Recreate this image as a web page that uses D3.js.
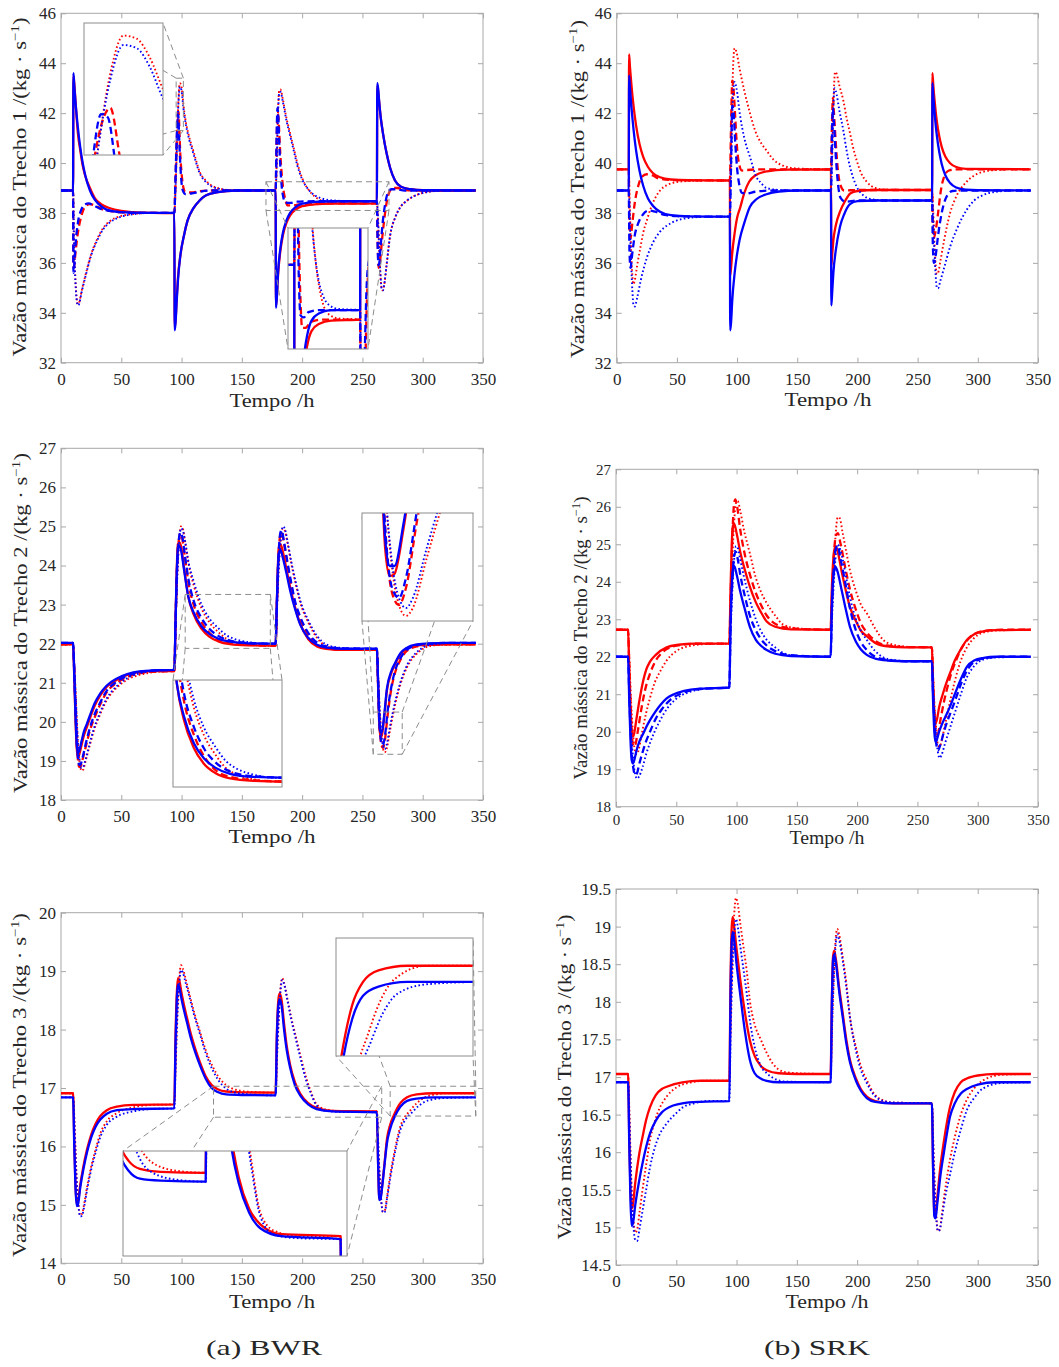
<!DOCTYPE html>
<html>
<head>
<meta charset="utf-8">
<script src="https://cdn.jsdelivr.net/npm/d3@7/dist/d3.min.js"></script>
<style>
  body { margin: 0; background: #fff; }
  svg text { font-family: "Liberation Serif", "DejaVu Serif", serif; fill: #262626; }
</style>
</head>
<body>
<svg id="fig" width="1059" height="1367"></svg>
<script>
// ---- data: [tempo (h), vazão (kg/s)] ----
const xTicks = [0, 50, 100, 150, 200, 250, 300, 350];

// BWR, Trecho 1
const bwr1RedSolid = [[0,38.9],[10,38.9],[10.3,43.5],[11,43.2],[12,42.5],[13,41.8],[14,41.2],[16,40.5],[18,39.9],[20,39.5],[24,39.0],[28,38.6],[34,38.33],[40,38.2],[50,38.08],[60,38.03],[75,38.0],[94,37.99],
  [94.3,33.4],[95,33.7],[96,34.6],[97,35.4],[99,36.3],[102,37.1],[105,37.7],[110,38.2],[115,38.5],[120,38.7],[130,38.83],[145,38.9],[178,38.9],
  [178.3,34.3],[179,34.6],[180,35.5],[182,36.5],[184,37.1],[187,37.6],[190,37.9],[195,38.15],[200,38.27],[210,38.34],[225,38.37],[262,38.38],
  [262.3,43.1],[263,42.9],[264,42.4],[265,41.9],[267,41.2],[270,40.4],[273,39.8],[277,39.3],[282,39.05],[290,38.95],[300,38.91],[344,38.9]];
const bwr1RedDash = [[0,38.9],[10,38.9],[10.3,35.8],[11,35.9],[12,36.4],[14,37.2],[17,37.9],[20,38.25],[24,38.35],[28,38.3],[34,38.15],[45,38.05],[60,38.0],[94,38.0],
  [95,39.4],[96,40.9],[97,41.9],[97.5,42.05],[98.2,41.3],[99,40.3],[100,39.6],[101,39.15],[103,38.85],[108,38.82],[115,38.87],[125,38.9],[178,38.9],
  [178.8,40.8],[179.6,42.0],[180.4,41.8],[181.3,40.9],[182.5,39.9],[184,39.1],[186,38.55],[188,38.3],[192,38.3],[200,38.36],[215,38.38],[262,38.38],
  [262.6,36.9],[263.5,35.8],[264.5,36.0],[266,36.8],[268,37.7],[270,38.4],[272,38.8],[275,39.0],[279,39.0],[286,38.92],[300,38.9],[344,38.9]];
const bwr1RedDot = [[0,38.9],[10,38.9],[10.5,37.6],[11,36.6],[12,35.3],[13,34.6],[14,34.35],[15,34.4],[17,34.85],[20,35.45],[25,36.35],[30,36.95],[35,37.4],[40,37.65],[50,37.88],[60,37.96],[75,38.0],[94,38.0],
  [95,39.0],[96,40.5],[96.5,41.3],[97.5,42.6],[98.5,43.2],[99.5,43.15],[100.5,42.85],[101.5,42.35],[103,41.8],[106,41.1],[110,40.45],[115,39.65],[120,39.3],[130,39.0],[145,38.9],[178,38.9],
  [179,40.3],[180,42.1],[181,42.9],[182,42.95],[184,42.55],[187,41.8],[190,41.2],[193,40.6],[196,40.0],[200,39.4],[205,38.95],[210,38.68],[215,38.52],[222,38.43],[235,38.39],[262,38.38],
  [263,37.6],[264,36.4],[265,35.45],[266,34.95],[267,34.9],[268,35.1],[270,35.9],[273,37.1],[277,37.8],[281,38.2],[287,38.5],[295,38.72],[305,38.85],[320,38.9],[344,38.9]];
const bwr1BlueSolid = [[0,38.9],[10,38.9],[10.3,43.6],[11,43.1],[12,42.46],[13,41.9],[14,41.42],[16,40.62],[18,40.0],[20,39.53],[24,38.9],[28,38.53],[34,38.24],[40,38.1],[50,38.03],[60,38.01],[94,38.0],
  [94.3,33.3],[95,33.6],[96,34.5],[97,35.3],[99,36.3],[102,37.1],[105,37.7],[110,38.2],[115,38.5],[120,38.7],[130,38.83],[145,38.9],[178,38.9],
  [178.3,34.2],[179,34.6],[180,35.6],[182,36.6],[184,37.2],[187,37.7],[190,38.0],[195,38.25],[200,38.37],[210,38.44],[225,38.47],[262,38.47],
  [262.3,43.2],[263,43.0],[264,42.4],[265,41.9],[267,41.2],[270,40.4],[273,39.8],[277,39.3],[282,39.05],[290,38.95],[300,38.91],[344,38.9]];
const bwr1BlueDash = [[0,38.9],[10,38.9],[10.3,35.6],[11,35.9],[12,36.7],[14,37.6],[17,38.15],[20,38.35],[23,38.38],[27,38.3],[32,38.18],[40,38.08],[50,38.03],[65,38.0],[94,38.0],
  [95,39.5],[96,41.0],[96.8,41.95],[97.3,41.9],[98,41.0],[99,39.9],[100,39.2],[101,38.9],[103,38.76],[108,38.78],[115,38.85],[125,38.9],[178,38.9],
  [178.8,41.0],[179.5,42.2],[180.2,41.9],[181,40.8],[182,39.8],[183,39.1],[184.5,38.6],[186,38.42],[190,38.4],[196,38.45],[210,38.47],[262,38.47],
  [262.6,36.8],[263.3,35.9],[264,36.0],[265,36.6],[267,37.7],[269,38.4],[271,38.8],[274,38.95],[278,38.95],[285,38.9],[344,38.9]];
const bwr1BlueDot = [[0,38.9],[10,38.9],[10.5,37.5],[11,36.5],[12,35.2],[13,34.5],[14,34.3],[15,34.35],[17,34.8],[20,35.4],[25,36.3],[30,36.9],[35,37.35],[40,37.6],[50,37.85],[60,37.95],[75,38.0],[94,38.0],
  [95,39.0],[96,40.5],[96.5,41.3],[97.5,42.5],[98.5,43.05],[99.5,43.0],[100.5,42.7],[101.5,42.2],[103,41.7],[106,41.0],[110,40.35],[115,39.6],[120,39.25],[130,38.98],[145,38.9],[178,38.9],
  [179,40.2],[180,42.0],[181,42.8],[182,42.85],[184,42.45],[187,41.7],[190,41.1],[193,40.5],[196,39.9],[200,39.35],[205,38.95],[210,38.72],[215,38.6],[222,38.52],[235,38.48],[262,38.47],
  [263,37.7],[264,36.5],[265,35.5],[266,34.95],[267,34.9],[268,35.1],[270,35.9],[273,37.1],[277,37.8],[281,38.2],[287,38.5],[295,38.72],[305,38.85],[320,38.9],[344,38.9]];

// SRK, Trecho 1
const srk1RedSolid = [[0,39.75],[10,39.75],[10.3,44.35],[11,43.86],[12,43.26],[13,42.73],[14,42.28],[16,41.54],[19,40.75],[22,40.25],[26,39.84],[30,39.6],[36,39.43],[45,39.34],[60,39.31],[94,39.3],
  [94.3,35.5],[95,35.8],[96,36.4],[98,37.2],[100,37.8],[102.5,38.2],[106,38.8],[110,39.25],[115,39.5],[125,39.67],[140,39.74],[178,39.75],
  [178.3,35.9],[179,36.3],[180,36.9],[182,37.5],[185.5,38.05],[190,38.5],[194,38.78],[200,38.88],[215,38.92],[262,38.92],
  [262.3,43.6],[263,43.12],[264,42.55],[265,42.06],[266,41.66],[268,41.06],[270,40.65],[273,40.26],[277,39.99],[282,39.84],[290,39.77],[344,39.75]];
const srk1RedDash = [[0,39.75],[10,39.75],[10.5,37.5],[11.5,37.0],[13,37.6],[15,38.4],[18,39.1],[21,39.45],[25,39.55],[30,39.5],[35,39.38],[45,39.32],[94,39.3],
  [95,41.5],[96,43.3],[97,43.0],[98.5,41.8],[100,40.6],[102,39.9],[104,39.7],[108,39.72],[120,39.75],[178,39.75],
  [178.8,41.5],[179.6,42.6],[180.5,42.0],[182,40.8],[184,39.6],[186,39.1],[189,38.9],[200,38.92],[262,38.92],
  [262.6,37.6],[263.5,37.0],[265,37.3],[267,38.0],[269,38.8],[272,39.45],[276,39.7],[282,39.75],[344,39.75]];
const srk1RedDot = [[0,39.75],[10,39.75],[11,38.0],[12,36.5],[13,35.5],[14,35.15],[15,35.3],[17,35.9],[20,36.7],[22,37.2],[25,37.7],[28,38.15],[32,38.6],[36,38.9],[42,39.12],[50,39.24],[65,39.29],[94,39.3],
  [95,40.5],[96,42.6],[97,44.2],[98,44.6],[99.5,44.45],[102,43.8],[106,42.9],[110.7,42.0],[115,41.3],[120,40.8],[124.5,40.5],[130,40.15],[138,39.9],[150,39.78],[178,39.75],
  [179,40.5],[180,42.3],[181.4,43.65],[182.5,43.6],[185,43.1],[188.3,42.5],[191,41.8],[193.8,41.2],[196,40.7],[199.4,40.1],[203,39.6],[207.7,39.25],[215,39.0],[225,38.93],[262,38.92],
  [263,38.0],[264,36.8],[265,35.9],[266,35.55],[267,35.6],[269,36.1],[272,36.9],[277,38.0],[282,38.65],[290.7,39.25],[297,39.5],[304.5,39.65],[315,39.72],[330,39.75],[344,39.75]];
const srk1BlueSolid = [[0,38.9],[10,38.9],[10.3,43.5],[11,43.01],[12,42.38],[13,41.83],[14,41.34],[16,40.54],[19,39.68],[22,39.09],[26,38.58],[30,38.29],[36,38.05],[45,37.91],[60,37.86],[94,37.85],
  [94.3,33.3],[95,33.6],[96,34.5],[98,35.6],[99.7,36.25],[102,36.9],[106,37.6],[110.7,38.25],[116,38.55],[124.5,38.75],[135,38.86],[150,38.9],[178,38.9],
  [178.3,34.3],[179,34.8],[180,35.6],[182,36.5],[185.5,37.45],[189,37.95],[193.8,38.35],[200,38.47],[215,38.5],[262,38.5],
  [262.3,43.2],[263,42.68],[264,42.06],[265,41.52],[266,41.09],[268,40.43],[270,39.96],[273,39.51],[277,39.2],[282,39.02],[290,38.93],[300,38.91],[344,38.9]];
const srk1BlueDash = [[0,38.9],[10,38.9],[10.6,36.5],[11.5,35.8],[13,36.4],[15,37.1],[18,37.6],[22,37.95],[27,38.1],[32,38.05],[40,37.92],[50,37.87],[94,37.85],
  [95,40.0],[96,42.3],[97,42.1],[98.5,40.8],[100,39.8],[102,39.1],[104,38.8],[108,38.78],[115,38.85],[130,38.9],[178,38.9],
  [178.8,41.0],[179.6,42.2],[180.5,41.6],[182,40.3],[184,39.1],[186,38.6],[190,38.45],[200,38.5],[262,38.5],
  [262.6,36.8],[263.5,36.0],[265,36.3],[267,37.1],[270,38.0],[274,38.65],[279,38.88],[288,38.9],[344,38.9]];
const srk1BlueDot = [[0,38.9],[10,38.9],[11,37.5],[12,36.0],[13,34.9],[14,34.3],[15,34.25],[17,34.6],[20,35.3],[25,36.2],[30,36.8],[36,37.25],[42,37.5],[50,37.7],[60,37.8],[75,37.85],[94,37.85],
  [95,39.5],[96,41.8],[97,43.0],[98,43.25],[99.5,43.0],[102.5,41.9],[106,41.0],[110.7,40.25],[116,39.45],[120,39.2],[124.5,39.0],[135,38.92],[150,38.9],[178,38.9],
  [179,40.2],[180,42.2],[181,43.0],[182,42.9],[185,42.1],[188.3,41.3],[191,40.5],[193.8,39.85],[196.5,39.4],[199.4,39.05],[205,38.7],[212,38.55],[225,38.5],[262,38.5],
  [263,37.6],[264,36.4],[265,35.5],[266,35.0],[267,34.98],[269,35.3],[272,35.8],[277,36.65],[283,37.4],[290.7,38.12],[297,38.5],[304.5,38.72],[315,38.85],[330,38.9],[344,38.9]];

// BWR, Trecho 2
const bwr2RedSolid = [[0,21.98],[10,21.98],[11,21.15],[12,20.1],[13,19.35],[14,19.1],[15,19.15],[17,19.4],[19,19.65],[21.6,19.88],[25,20.18],[28,20.42],[32.6,20.68],[38,20.9],[46.4,21.08],[55,21.2],[65,21.27],[80,21.3],[94,21.3],
  [95,22.6],[96,23.9],[97,24.55],[98,24.6],[99.5,24.5],[102,23.95],[105.6,23.2],[110,22.75],[116.6,22.38],[123,22.18],[130.4,22.06],[140,21.99],[155,21.96],[178,21.95],
  [179,23.0],[180,24.1],[181,24.5],[182,24.55],[184,24.35],[187,23.9],[190,23.45],[194,22.95],[198.5,22.5],[205,22.12],[212.3,21.93],[220,21.87],[235,21.84],[262,21.84],
  [263,20.9],[264,19.9],[265,19.62],[266,19.64],[268,20.1],[270.3,20.8],[274,21.25],[277,21.47],[281.4,21.72],[287,21.88],[295,21.95],[305,21.97],[320,21.98],[344,21.98]];
const bwr2RedDash = [[0,21.98],[10,21.98],[11,21.3],[12,20.4],[13,19.55],[14,19.05],[15,18.85],[16,18.85],[18,19.05],[21,19.42],[24,19.78],[28,20.12],[32.6,20.45],[38,20.76],[46.4,21.0],[55,21.15],[65,21.24],[80,21.29],[94,21.3],
  [95,22.5],[96,23.7],[97.5,24.6],[99,24.8],[100.5,24.7],[103,24.15],[106,23.5],[110,23.0],[116.6,22.55],[123,22.28],[130.4,22.1],[140,22.01],[155,21.97],[178,21.95],
  [179,23.0],[180.5,24.3],[182,24.8],[183,24.85],[185,24.55],[188,24.0],[191,23.5],[194,23.05],[198.5,22.62],[205,22.22],[212.3,21.98],[220,21.89],[235,21.85],[262,21.84],
  [263,21.0],[264,20.1],[265.5,19.45],[267,19.33],[268.5,19.5],[271,20.2],[274,20.85],[277,21.25],[281.4,21.58],[287,21.82],[295,21.93],[305,21.97],[320,21.98],[344,21.98]];
const bwr2RedDot = [[0,21.98],[10,21.98],[11,21.5],[12,20.8],[13,20.1],[14,19.45],[15.5,18.95],[17,18.75],[18.5,18.78],[20,18.95],[23,19.3],[27,19.75],[32.6,20.2],[38,20.56],[46.4,20.88],[55,21.08],[65,21.2],[80,21.28],[94,21.3],
  [95,22.4],[96.5,23.8],[98,24.65],[99.5,25.0],[101,24.95],[103,24.6],[106,24.0],[110,23.5],[116.6,22.9],[123,22.55],[130.4,22.3],[137,22.13],[144,22.04],[155,21.98],[170,21.95],[178,21.95],
  [179,22.8],[180.5,23.9],[182,24.6],[184,24.95],[185.5,24.9],[188,24.55],[191,24.05],[194.5,23.55],[198.5,23.05],[205,22.55],[212.3,22.15],[220,21.94],[230,21.87],[245,21.84],[262,21.84],
  [263,21.2],[264,20.5],[265.5,19.7],[267,19.33],[268.5,19.22],[270,19.3],[273,19.8],[277,20.42],[281.4,20.95],[287,21.4],[295,21.74],[302,21.9],[310,21.96],[325,21.98],[344,21.98]];
const bwr2BlueSolid = [[0,22.02],[10,22.02],[11,21.2],[12,20.2],[13,19.45],[14,19.2],[15,19.25],[17,19.5],[19,19.75],[21.6,19.96],[25,20.25],[28,20.48],[32.6,20.73],[38,20.93],[46.4,21.11],[55,21.22],[65,21.29],[80,21.32],[94,21.33],
  [95,22.6],[96,23.8],[97,24.45],[98,24.5],[99.5,24.4],[102,23.9],[105.6,23.2],[110,22.8],[116.6,22.44],[123,22.25],[130.4,22.13],[140,22.05],[155,22.01],[178,22.0],
  [179,23.0],[180,24.0],[181,24.35],[182,24.4],[184,24.2],[187,23.8],[190,23.37],[194,22.9],[198.5,22.48],[205,22.15],[212.3,21.97],[220,21.9],[235,21.87],[262,21.87],
  [263,21.0],[264,20.0],[265,19.72],[266,19.72],[268,20.15],[270.3,20.85],[274,21.3],[277,21.5],[281.4,21.75],[287,21.9],[295,21.98],[305,22.01],[320,22.02],[344,22.02]];
const bwr2BlueDash = [[0,22.02],[10,22.02],[11,21.3],[12,20.4],[13,19.6],[14,19.1],[15,18.9],[16,18.9],[18,19.1],[21,19.5],[24,19.85],[28,20.2],[32.6,20.5],[38,20.8],[46.4,21.03],[55,21.18],[65,21.27],[80,21.32],[94,21.33],
  [95,22.5],[96,23.7],[97.5,24.6],[99,24.85],[100.5,24.75],[103,24.2],[106,23.6],[110,23.1],[116.6,22.65],[123,22.38],[130.4,22.2],[140,22.08],[155,22.02],[178,22.0],
  [179,23.0],[180.5,24.3],[182,24.85],[183,24.9],[185,24.6],[188,24.05],[191,23.55],[194,23.1],[198.5,22.68],[205,22.28],[212.3,22.03],[220,21.93],[235,21.88],[262,21.87],
  [263,21.0],[264,20.1],[265.5,19.5],[267,19.4],[268.5,19.6],[271,20.3],[274,20.9],[277,21.3],[281.4,21.62],[287,21.85],[295,21.96],[305,22.0],[320,22.02],[344,22.02]];
const bwr2BlueDot = [[0,22.02],[10,22.02],[11,21.5],[12,20.8],[13,20.1],[14,19.5],[15.5,19.0],[17,18.82],[18.5,18.85],[20,19.0],[23,19.35],[27,19.8],[32.6,20.25],[38,20.6],[46.4,20.92],[55,21.12],[65,21.24],[80,21.31],[94,21.33],
  [95,22.4],[96.5,23.8],[98,24.6],[99.5,24.95],[101,24.9],[103,24.6],[106,24.05],[110,23.6],[116.6,23.0],[123,22.65],[130.4,22.4],[137,22.22],[144,22.12],[155,22.04],[170,22.0],[178,22.0],
  [179,22.8],[180.5,23.9],[182,24.6],[184,25.0],[185.5,24.95],[188,24.6],[191,24.1],[194.5,23.6],[198.5,23.1],[205,22.6],[212.3,22.2],[220,21.98],[230,21.9],[245,21.87],[262,21.87],
  [263,21.2],[264,20.5],[265.5,19.75],[267,19.4],[268.5,19.3],[270,19.4],[273,19.9],[277,20.5],[281.4,21.0],[287,21.45],[295,21.78],[302,21.93],[310,21.99],[325,22.02],[344,22.02]];

// SRK, Trecho 2
const srk2RedSolid = [[0,22.72],[10,22.72],[11,21.6],[12,20.6],[13,20.0],[14,19.87],[15,19.95],[17,20.35],[19.5,20.85],[22.7,21.38],[25,21.65],[28.2,21.87],[33,22.05],[42,22.25],[52,22.32],[65,22.35],[94,22.35],
  [95,23.8],[96,25.0],[97,25.5],[98,25.55],[100,25.3],[103,24.8],[107,24.3],[111,23.87],[116,23.45],[120,23.2],[125,22.94],[132,22.8],[145,22.73],[178,22.72],
  [179,23.8],[180.5,24.7],[182,24.95],[183.5,24.85],[187,24.3],[190,23.85],[194,23.33],[199,22.95],[203,22.7],[208,22.55],[215,22.37],[225,22.28],[240,22.25],[262,22.25],
  [263,21.2],[264,20.45],[265,20.22],[266,20.3],[268,20.65],[271,21.0],[274,21.3],[277,21.56],[281,21.9],[286,22.2],[291,22.45],[297,22.6],[305,22.68],[315,22.71],[344,22.72]];
const srk2RedDash = [[0,22.72],[10,22.72],[11,21.8],[12,20.8],[13,20.0],[14.5,19.6],[16,19.65],[18,20.0],[21,20.6],[24,21.1],[28.2,21.55],[33,21.9],[38,22.1],[45,22.25],[55,22.32],[70,22.35],[94,22.35],
  [95,23.5],[96.5,25.2],[98,26.1],[99,26.2],[100.5,26.0],[103,25.4],[107,24.7],[111,24.2],[116,23.7],[120,23.4],[125,23.1],[132,22.88],[145,22.76],[178,22.72],
  [179,23.5],[180.5,24.6],[182.5,25.25],[184,25.3],[186,25.05],[190,24.4],[194,23.8],[199,23.25],[203,22.9],[208,22.65],[215,22.43],[225,22.3],[240,22.26],[262,22.25],
  [263,21.3],[264,20.5],[265.5,20.0],[267,19.95],[269,20.3],[272,20.8],[275,21.2],[278,21.55],[282,21.9],[287,22.25],[292,22.47],[298,22.62],[306,22.69],[320,22.72],[344,22.72]];
const srk2RedDot = [[0,22.72],[10,22.72],[11,22.0],[12,21.2],[13,20.5],[14.5,19.8],[16,19.45],[17.5,19.4],[19,19.55],[22,20.05],[25,20.5],[28.2,20.9],[32,21.3],[36.5,21.6],[42,21.9],[50,22.15],[60,22.28],[75,22.34],[94,22.35],
  [95,23.2],[96.5,24.6],[98,25.6],[99.5,26.1],[101,26.15],[103,25.9],[106,25.4],[111,24.76],[116,24.1],[120,23.75],[125,23.43],[132,23.1],[139,22.85],[150,22.76],[165,22.73],[178,22.72],
  [179,23.3],[180.5,24.3],[182,25.2],[184,25.72],[185.5,25.7],[188,25.3],[191,24.8],[194,24.31],[199,23.75],[203,23.4],[208,23.16],[215,22.75],[221.6,22.45],[230,22.32],[245,22.26],[262,22.25],
  [263,21.5],[264,20.8],[265.5,20.1],[267,19.65],[268.5,19.6],[270,19.75],[273,20.2],[277,20.8],[281,21.35],[286,21.9],[291,22.25],[297,22.5],[304,22.64],[315,22.7],[344,22.72]];
const srk2BlueSolid = [[0,22.0],[10,22.0],[11,20.8],[12,19.8],[13,19.25],[14,19.15],[15,19.22],[17,19.5],[19.5,19.75],[22.7,19.96],[25,20.12],[28.2,20.31],[33,20.55],[37,20.72],[42,20.89],[48,21.0],[55.6,21.08],[70,21.15],[94,21.18],
  [95,22.9],[96,23.9],[97,24.35],[98,24.42],[100,24.2],[103,23.75],[107,23.25],[111,22.8],[116,22.45],[120,22.3],[125,22.18],[132,22.08],[145,22.02],[178,22.0],
  [179,23.3],[180.5,24.2],[182,24.4],[183.5,24.3],[187,23.8],[190,23.35],[194,22.8],[199,22.4],[203,22.2],[208,22.05],[215,21.95],[225,21.9],[240,21.88],[262,21.88],
  [263,20.8],[264,20.0],[265,19.73],[266,19.78],[268,20.0],[271,20.25],[274,20.45],[277,20.67],[281,21.0],[286,21.4],[291,21.73],[297,21.9],[305,21.97],[315,22.0],[344,22.0]];
const srk2BlueDash = [[0,22.0],[10,22.0],[11,21.0],[12,20.1],[13,19.45],[14.5,19.0],[16,18.85],[17.5,18.9],[19,19.1],[22,19.45],[25,19.75],[28.2,20.0],[33,20.35],[38,20.6],[45,20.85],[55,21.03],[70,21.14],[94,21.18],
  [95,22.8],[96.5,24.0],[98,24.7],[99.5,24.8],[101,24.6],[103,24.2],[107,23.6],[111,23.1],[116,22.7],[120,22.48],[125,22.3],[132,22.15],[145,22.04],[178,22.0],
  [179,23.2],[180.5,24.3],[182.5,24.9],[184,24.95],[186,24.65],[190,24.0],[194,23.3],[199,22.7],[203,22.4],[208,22.18],[215,22.0],[225,21.92],[240,21.88],[262,21.88],
  [263,21.0],[264,20.3],[265.5,19.7],[267,19.5],[269,19.65],[272,20.0],[275,20.3],[278,20.55],[282,20.9],[287,21.35],[292,21.68],[298,21.88],[306,21.96],[320,22.0],[344,22.0]];
const srk2BlueDot = [[0,22.0],[10,22.0],[11,21.3],[12,20.5],[13,19.8],[14.5,19.2],[16,18.85],[17.5,18.75],[19,18.8],[22,19.05],[25,19.4],[28.2,19.7],[32,20.0],[36.5,20.3],[42,20.6],[50,20.88],[60,21.05],[75,21.15],[94,21.18],
  [95,22.5],[96.5,23.8],[98,24.6],[99.5,24.95],[101,24.9],[103,24.6],[106,24.15],[111,23.51],[116,23.0],[120,22.7],[125,22.45],[132,22.25],[140,22.08],[150,22.02],[178,22.0],
  [179,22.9],[180.5,23.9],[182,24.6],[183.5,25.0],[185,24.95],[188,24.6],[191,24.1],[194,23.6],[199,23.0],[203,22.7],[208,22.45],[215,22.15],[222,21.98],[230,21.91],[245,21.88],[262,21.88],
  [263,21.2],[264,20.6],[265.5,19.9],[267,19.45],[268.5,19.3],[270,19.38],[273,19.7],[277,20.1],[281,20.5],[286,21.0],[291,21.45],[297,21.75],[304,21.92],[315,21.98],[344,22.0]];

// BWR, Trecho 3
const bwr3RedSolid = [[0,16.91],[10,16.91],[11,16.1],[12,15.35],[13,15.02],[14,15.05],[16,15.35],[18.5,15.65],[21.6,15.95],[25,16.2],[28.5,16.38],[32.6,16.52],[38,16.62],[46.4,16.68],[60,16.71],[94,16.72],
  [95,17.9],[96,18.6],[97,18.88],[98,18.85],[100,18.62],[102,18.42],[104.5,18.2],[108,17.9],[111.5,17.66],[115.6,17.42],[120,17.2],[125,17.05],[130,16.98],[137,16.94],[150,16.925],[178,16.92],
  [179,17.9],[180.5,18.55],[181.5,18.62],[183,18.5],[185,18.1],[187.2,17.72],[190,17.4],[194,17.1],[198.5,16.9],[205,16.74],[212,16.66],[225,16.61],[262,16.6],
  [263,15.7],[264,15.1],[265,15.12],[266.5,15.35],[268.5,15.75],[270.3,16.12],[273,16.37],[276,16.53],[281.4,16.74],[287,16.84],[295,16.89],[310,16.91],[344,16.91]];
const bwr3RedDot = [[0,16.91],[10,16.91],[11,16.5],[12,15.95],[13,15.45],[14.5,15.0],[16,14.82],[17.5,14.85],[19.5,15.05],[22,15.35],[25,15.65],[28.5,15.93],[32.6,16.22],[38,16.43],[46.4,16.57],[60,16.67],[75,16.71],[94,16.72],
  [95,17.4],[96.5,18.3],[98,18.85],[99.5,19.1],[101,19.05],[103,18.9],[106,18.65],[110,18.33],[115.6,17.94],[120,17.65],[126,17.36],[131,17.18],[137,17.05],[145,16.97],[160,16.93],[178,16.92],
  [179,17.5],[180.5,18.2],[182,18.7],[183.5,18.88],[185,18.8],[188,18.5],[191,18.2],[194.5,17.9],[198.5,17.56],[203,17.2],[207,16.95],[212,16.72],[220,16.63],[235,16.6],[262,16.6],
  [263,16.1],[264,15.6],[265.5,15.1],[267,14.88],[268.5,14.9],[270.5,15.15],[273,15.5],[277,15.95],[281.4,16.34],[285,16.5],[289,16.6],[295,16.74],[303,16.85],[320,16.91],[344,16.91]];
const bwr3BlueSolid = [[0,16.84],[10,16.84],[11,16.0],[12,15.3],[13,14.98],[14,15.0],[16,15.3],[18.5,15.6],[21.6,15.9],[25,16.15],[28.5,16.33],[32.6,16.46],[38,16.56],[46.4,16.62],[60,16.64],[94,16.65],
  [95,17.8],[96,18.5],[97,18.77],[98,18.73],[100,18.52],[102,18.33],[104.5,18.12],[108,17.83],[111.5,17.6],[115.6,17.37],[120,17.16],[125,17.0],[130,16.93],[137,16.89],[150,16.88],[178,16.875],
  [179,17.85],[180.5,18.45],[181.5,18.52],[183,18.4],[185,18.0],[187.2,17.65],[190,17.35],[194,17.05],[198.5,16.87],[205,16.72],[212,16.64],[225,16.6],[262,16.585],
  [263,15.7],[264,15.08],[265,15.1],[266.5,15.33],[268.5,15.72],[270.3,16.05],[273,16.3],[277,16.52],[281.4,16.68],[287,16.78],[295,16.82],[310,16.84],[344,16.84]];
const bwr3BlueDot = [[0,16.84],[10,16.84],[11,16.45],[12,15.9],[13,15.4],[14.5,14.97],[16,14.8],[17.5,14.82],[19.5,15.0],[22,15.3],[25,15.6],[28.5,15.88],[32.6,16.16],[38,16.37],[46.4,16.51],[60,16.6],[75,16.64],[94,16.65],
  [95,17.3],[96.5,18.2],[98,18.75],[99.5,19.02],[101,18.98],[103,18.83],[106,18.6],[110,18.28],[115.6,17.9],[120,17.6],[126,17.3],[131,17.12],[137,16.99],[145,16.92],[160,16.885],[178,16.875],
  [179,17.45],[180.5,18.15],[182,18.65],[183.5,18.85],[185,18.78],[188,18.48],[191,18.17],[194.5,17.86],[198.5,17.52],[203,17.15],[207,16.92],[212,16.7],[220,16.61],[235,16.59],[262,16.585],
  [263,16.1],[264,15.6],[265.5,15.1],[267,14.87],[268.5,14.88],[270.5,15.12],[273,15.45],[277,15.9],[281.4,16.28],[286,16.47],[291,16.58],[297,16.7],[305,16.79],[320,16.83],[344,16.84]];

// SRK, Trecho 3
const srk3RedSolid = [[0,17.04],[10,17.04],[11,16.2],[12,15.5],[13,15.25],[14,15.3],[16,15.6],[19,15.95],[22.6,16.25],[25,16.43],[28.2,16.6],[33,16.76],[38,16.84],[42,16.87],[55,16.93],[70,16.95],[94,16.95],
  [95,18.3],[96,19.0],[96.8,19.13],[98,19.0],[100,18.7],[103,18.3],[107,17.85],[111,17.49],[115,17.28],[120,17.15],[125,17.09],[135,17.05],[150,17.04],[178,17.04],
  [179,18.0],[180,18.6],[181,18.68],[182.5,18.55],[185,18.2],[188,17.85],[191,17.5],[194,17.23],[199,16.98],[203,16.84],[208,16.74],[215,16.68],[230,16.65],[262,16.65],
  [263,15.8],[264,15.2],[265,15.18],[266.5,15.4],[269,15.8],[272,16.15],[274.5,16.4],[277,16.6],[281,16.8],[286,16.93],[291,16.98],[300,17.02],[315,17.04],[344,17.04]];
const srk3RedDot = [[0,17.04],[10,17.04],[11,16.6],[12,16.0],[13,15.5],[14.5,15.1],[16,14.93],[17.5,14.97],[19.5,15.2],[22,15.5],[25,15.83],[28.2,16.16],[32,16.4],[36,16.58],[42,16.74],[50,16.86],[60,16.92],[75,16.95],[94,16.95],
  [95,17.7],[96.5,18.6],[98,19.15],[99.5,19.38],[101,19.3],[103,19.05],[106,18.7],[108.5,18.4],[111,18.02],[115,17.7],[120,17.5],[125,17.32],[130,17.18],[139,17.07],[150,17.05],[178,17.04],
  [179,17.6],[180.5,18.3],[182,18.8],[183.5,18.97],[185,18.9],[188,18.6],[191,18.25],[194,17.8],[199,17.4],[203,17.15],[208,16.96],[214,16.78],[220,16.7],[230,16.66],[262,16.65],
  [263,16.2],[264,15.7],[265.5,15.2],[267,14.95],[268.5,14.97],[270.5,15.2],[273,15.5],[277,15.9],[281,16.2],[286,16.5],[291,16.7],[297,16.85],[305,16.96],[320,17.03],[344,17.04]];
const srk3BlueSolid = [[0,16.93],[10,16.93],[11,16.1],[12,15.35],[13,15.02],[14,15.05],[16,15.3],[19,15.6],[22.6,15.9],[25,16.07],[28.2,16.25],[33,16.42],[38,16.53],[42,16.58],[55,16.65],[70,16.67],[94,16.68],
  [95,18.1],[96,18.8],[96.8,18.93],[98,18.82],[100,18.5],[103,18.1],[107,17.6],[111,17.23],[115,17.05],[120,16.98],[125,16.95],[135,16.93],[178,16.93],
  [179,17.95],[180,18.55],[181,18.63],[182.5,18.5],[185,18.15],[188,17.8],[191,17.45],[194,17.2],[199,16.95],[203,16.82],[208,16.72],[215,16.67],[230,16.65],[262,16.65],
  [263,15.75],[264,15.15],[265,15.12],[266.5,15.32],[269,15.68],[272,16.0],[274.5,16.25],[277,16.47],[281,16.65],[286,16.78],[291,16.84],[300,16.9],[315,16.93],[344,16.93]];
const srk3BlueDot = [[0,16.93],[10,16.93],[11,16.5],[12,15.9],[13,15.4],[14.5,15.0],[16,14.83],[17.5,14.82],[19.5,14.98],[22,15.22],[25,15.5],[28.2,15.8],[32,16.05],[36,16.23],[42,16.38],[50,16.52],[55.7,16.6],[65,16.65],[75,16.68],[94,16.68],
  [95,17.5],[96.5,18.4],[98,18.9],[99.5,19.1],[101,19.0],[103,18.75],[106,18.4],[108.5,18.1],[111,17.76],[115,17.4],[120,17.15],[125,17.05],[130,16.99],[140,16.94],[178,16.93],
  [179,17.55],[180.5,18.25],[182,18.72],[183.5,18.9],[185,18.83],[188,18.55],[191,18.2],[194,17.8],[199,17.35],[203,17.1],[208,16.92],[214,16.76],[220,16.69],[230,16.66],[262,16.65],
  [263,16.15],[264,15.65],[265.5,15.15],[267,14.95],[268.5,14.97],[270.5,15.15],[273,15.4],[277,15.7],[281,16.0],[286,16.3],[291,16.56],[297,16.72],[304.6,16.85],[320,16.92],[344,16.93]];

// ---- layout ----
const RED = "#ff0000", BLUE = "#0000ff";
const dashes = { solid: null, dash: "7,4", dot: "1.6,2.4" };

const panels = [
  { id: "a1", xr: [61, 483], yr: [13.3, 362.7], dom: [32, 46], yTicks: d3.range(32, 47, 2), trecho: 1, fs: 17, pad: 10,
    ylab: [26, 187, 339], xlab: [272, 407, 85],
    series: [[bwr1RedDot, RED, "dot"], [bwr1RedDash, RED, "dash"], [bwr1RedSolid, RED, "solid"],
             [bwr1BlueDot, BLUE, "dot"], [bwr1BlueDash, BLUE, "dash"], [bwr1BlueSolid, BLUE, "solid"]],
    insets: [{ box: [84, 23, 163, 155], t: [95.5, 101.5], v: [41.3, 43.4] },
             { box: [288, 228, 368, 349], t: [170, 272], v: [38.1, 39.25] }] },
  { id: "b1", xr: [616.7, 1038], yr: [13.3, 362.7], dom: [32, 46], yTicks: d3.range(32, 47, 2), trecho: 1, fs: 17, pad: 10,
    ylab: [584, 189, 338], xlab: [828, 406, 87],
    series: [[srk1RedDot, RED, "dot"], [srk1RedDash, RED, "dash"], [srk1RedSolid, RED, "solid"],
             [srk1BlueDot, BLUE, "dot"], [srk1BlueDash, BLUE, "dash"], [srk1BlueSolid, BLUE, "solid"]],
    insets: [] },
  { id: "a2", xr: [61, 483], yr: [448.3, 800], dom: [18, 27], yTicks: d3.range(18, 28, 1), trecho: 2, fs: 17, pad: 10,
    ylab: [27, 623, 340], xlab: [272, 843, 87],
    series: [[bwr2RedDot, RED, "dot"], [bwr2RedDash, RED, "dash"], [bwr2RedSolid, RED, "solid"],
             [bwr2BlueDot, BLUE, "dot"], [bwr2BlueDash, BLUE, "dash"], [bwr2BlueSolid, BLUE, "solid"]],
    insets: [{ box: [173, 680, 282, 787], t: [103, 173.6], v: [21.88, 23.26] },
             { box: [362, 513, 473, 621], t: [259, 283], v: [19.17, 20.25] }] },
  { id: "b2", xr: [616, 1038], yr: [469.3, 806.7], dom: [18, 27], yTicks: d3.range(18, 28, 1), trecho: 2, fs: 15, pad: 8,
    ylab: [587, 638, 283], xlab: [827, 844, 75],
    series: [[srk2RedDot, RED, "dot"], [srk2RedDash, RED, "dash"], [srk2RedSolid, RED, "solid"],
             [srk2BlueDot, BLUE, "dot"], [srk2BlueDash, BLUE, "dash"], [srk2BlueSolid, BLUE, "solid"]],
    insets: [] },
  { id: "a3", xr: [61, 483], yr: [912.7, 1263.3], dom: [14, 20], yTicks: d3.range(14, 21, 1), trecho: 3, fs: 17, pad: 10,
    ylab: [26, 1085, 344], xlab: [272, 1308, 86],
    series: [[bwr3RedDot, RED, "dot"], [bwr3RedSolid, RED, "solid"],
             [bwr3BlueDot, BLUE, "dot"], [bwr3BlueSolid, BLUE, "solid"]],
    insets: [{ box: [123, 1151, 347, 1256], t: [126.5, 266], v: [16.5, 17.03] },
             { box: [336, 938, 473, 1056], t: [273, 344], v: [16.52, 17.03] }] },
  { id: "b3", xr: [616, 1038], yr: [889, 1265], dom: [14.5, 19.5], yTicks: d3.range(14.5, 19.51, 0.5), trecho: 3, fs: 17, pad: 10,
    ylab: [571, 1077, 325], xlab: [827, 1308, 83],
    series: [[srk3RedDot, RED, "dot"], [srk3RedSolid, RED, "solid"],
             [srk3BlueDot, BLUE, "dot"], [srk3BlueSolid, BLUE, "solid"]],
    insets: [] }
];

const svg = d3.select("#fig");
const defs = svg.append("defs");
const GRAY = "#a8a8a8";

function styleLine(sel, color, kind) {
  sel.attr("fill", "none")
    .attr("stroke", color)
    .attr("stroke-width", kind === "dot" ? 1.9 : 2.3)
    .attr("stroke-dasharray", dashes[kind])
    .attr("stroke-linejoin", "round");
}

panels.forEach(p => {
  const x = d3.scaleLinear().domain([0, 350]).range(p.xr);
  const y = d3.scaleLinear().domain(p.dom).range([p.yr[1], p.yr[0]]);
  const g = svg.append("g");
  const w = p.xr[1] - p.xr[0], h = p.yr[1] - p.yr[0];

  defs.append("clipPath").attr("id", "clip-" + p.id)
    .append("rect").attr("x", p.xr[0]).attr("y", p.yr[0]).attr("width", w).attr("height", h);

  // axes, MATLAB style: ticks inside, box on
  const fmt = d => String(+d.toFixed(1));
  const ax = [
    [d3.axisBottom(x).tickValues(xTicks), `translate(0,${p.yr[1]})`, true],
    [d3.axisTop(x).tickValues(xTicks), `translate(0,${p.yr[0]})`, false],
    [d3.axisLeft(y).tickValues(p.yTicks).tickFormat(fmt), `translate(${p.xr[0]},0)`, true],
    [d3.axisRight(y).tickValues(p.yTicks), `translate(${p.xr[1]},0)`, false]
  ];
  ax.forEach(([axis, tr, labels], i) => {
    const a = g.append("g").attr("transform", tr)
      .call(axis.tickSizeInner(-5).tickSizeOuter(0).tickPadding(i === 2 ? 5 : p.pad));
    a.select(".domain").remove();
    a.selectAll("line").attr("stroke", GRAY);
    a.attr("font-family", null).attr("font-size", null);
    if (labels) a.selectAll("text").attr("font-size", p.fs).attr("fill", "#262626");
    else a.selectAll("text").remove();
  });

  g.append("rect").attr("x", p.xr[0]).attr("y", p.yr[0]).attr("width", w).attr("height", h)
    .attr("fill", "none").attr("stroke", GRAY).attr("stroke-width", 1);

  // curves
  const line = d3.line().x(d => x(d[0])).y(d => y(d[1])).curve(d3.curveMonotoneX);
  const lines = g.append("g").attr("clip-path", `url(#clip-${p.id})`);
  p.series.forEach(([data, color, kind]) => {
    lines.append("path").datum(data).attr("d", line).call(styleLine, color, kind);
  });

  // zoom insets
  p.insets.forEach((ins, k) => {
    const [bx0, by0, bx1, by1] = ins.box;
    const sx0 = x(ins.t[0]), sx1 = x(ins.t[1]), sy0 = y(ins.v[1]), sy1 = y(ins.v[0]);
    const dashStyle = s => s.attr("fill", "none").attr("stroke", "#8c8c8c").attr("stroke-width", 1).attr("stroke-dasharray", "6,4");
    g.append("rect").attr("x", sx0).attr("y", sy0).attr("width", sx1 - sx0).attr("height", sy1 - sy0).call(dashStyle);
    [[sx0, sy0, bx0, by0], [sx1, sy0, bx1, by0], [sx0, sy1, bx0, by1], [sx1, sy1, bx1, by1]].forEach(c => {
      g.append("line").attr("x1", c[0]).attr("y1", c[1]).attr("x2", c[2]).attr("y2", c[3]).call(dashStyle);
    });

    const xi = d3.scaleLinear().domain(ins.t).range([bx0, bx1]);
    const yi = d3.scaleLinear().domain(ins.v).range([by1, by0]);
    const cid = `clip-${p.id}-${k}`;
    defs.append("clipPath").attr("id", cid)
      .append("rect").attr("x", bx0).attr("y", by0).attr("width", bx1 - bx0).attr("height", by1 - by0);
    g.append("rect").attr("x", bx0).attr("y", by0).attr("width", bx1 - bx0).attr("height", by1 - by0).attr("fill", "#fff");
    const lineI = d3.line().x(d => xi(d[0])).y(d => yi(d[1])).curve(d3.curveMonotoneX);
    const li = g.append("g").attr("clip-path", `url(#${cid})`);
    p.series.forEach(([data, color, kind]) => {
      li.append("path").datum(data).attr("d", lineI).call(styleLine, color, kind);
    });
    g.append("rect").attr("x", bx0).attr("y", by0).attr("width", bx1 - bx0).attr("height", by1 - by0)
      .attr("fill", "none").attr("stroke", "#8c8c8c").attr("stroke-width", 1);
  });

  // axis titles
  g.append("text").attr("x", p.xlab[0]).attr("y", p.xlab[1]).attr("text-anchor", "middle")
    .attr("font-size", 19).attr("textLength", p.xlab[2]).attr("lengthAdjust", "spacingAndGlyphs")
    .text("Tempo /h");

  const yl = g.append("text").attr("transform", `translate(${p.ylab[0]},${p.ylab[1]}) rotate(-90)`)
    .attr("text-anchor", "middle").attr("font-size", 18)
    .attr("textLength", p.ylab[2]).attr("lengthAdjust", "spacingAndGlyphs");
  yl.append("tspan").text(`Vazão mássica do Trecho ${p.trecho} /(kg · s`);
  yl.append("tspan").attr("dy", -7).attr("font-size", 12).text("−1");
  yl.append("tspan").attr("dy", 7).text(")");
});

// subfigure captions
[["(a) BWR", 264, 116], ["(b) SRK", 817, 106]].forEach(([txt, cx, len]) => {
  svg.append("text").attr("x", cx).attr("y", 1355).attr("text-anchor", "middle")
    .attr("font-size", 22).attr("textLength", len).attr("lengthAdjust", "spacingAndGlyphs")
    .text(txt);
});
</script>
</body>
</html>
